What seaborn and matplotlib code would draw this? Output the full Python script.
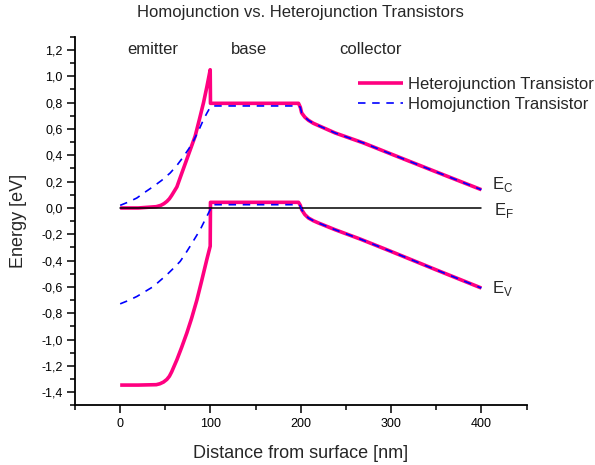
import numpy as np
import pandas as pd
import matplotlib
matplotlib.use("Agg")
import matplotlib.pyplot as plt
from matplotlib.ticker import MultipleLocator, FuncFormatter
import seaborn as sns

# ---- data ----
hetero_ec_x = [0, 20, 40, 45, 48.5, 51.7, 54.5, 57, 62.8, 68, 73.8, 78, 83, 88, 92.3, 96, 99.7, 100,
               197.5, 199.5, 201, 204.5, 208.5, 214, 219.6, 238, 269.4, 300, 350, 400]
hetero_ec_y = [0.0, 0.0, 0.01, 0.02, 0.033, 0.05, 0.07, 0.095, 0.16, 0.26, 0.37, 0.45, 0.545, 0.68, 0.80, 0.92, 1.05, 0.795,
               0.795, 0.765, 0.722, 0.69, 0.666, 0.643, 0.626, 0.57, 0.494, 0.41, 0.274, 0.139]

hetero_ev_x = [0, 20, 40, 44, 48, 51.7, 54.5, 57, 62.8, 68, 73.8, 79, 84.9, 90, 96, 99.7, 100,
               197.5, 199.5, 201, 204.5, 208.5, 214, 219.6, 238, 265.8, 300, 350, 400]
hetero_ev_y = [-1.345, -1.345, -1.342, -1.335, -1.322, -1.302, -1.278, -1.245, -1.153, -1.06, -0.95, -0.84, -0.70, -0.56, -0.39, -0.29, 0.043,
               0.043, 0.02, -0.013, -0.05, -0.076, -0.097, -0.114, -0.165, -0.236, -0.33, -0.47, -0.608]

homo_ec_x = [0, 9, 18.5, 27, 36.9, 46, 55.4, 63, 70.1, 76, 81.2, 87, 92.2, 96, 99.7, 102,
             197.5, 199.5, 201, 204.5, 208.5, 214, 219.6, 238, 269.4, 300, 350, 400]
homo_ec_y = [0.02, 0.045, 0.076, 0.118, 0.164, 0.21, 0.266, 0.325, 0.39, 0.45, 0.51, 0.59, 0.67, 0.72, 0.765, 0.775,
             0.775, 0.765, 0.722, 0.69, 0.666, 0.643, 0.626, 0.57, 0.494, 0.41, 0.274, 0.139]

homo_ev_x = [0, 9, 18.5, 27, 36.9, 44, 51.7, 59, 66.4, 72, 77.5, 83, 88.6, 94, 99.7, 102,
             197.5, 199.5, 201, 204.5, 208.5, 214, 219.6, 238, 265.8, 300, 350, 400]
homo_ev_y = [-0.728, -0.703, -0.672, -0.637, -0.596, -0.553, -0.507, -0.458, -0.406, -0.35, -0.29, -0.228, -0.165, -0.09, -0.013, 0.025,
             0.025, 0.015, -0.013, -0.05, -0.076, -0.097, -0.114, -0.165, -0.236, -0.33, -0.47, -0.608]

ef_x = [0, 400]
ef_y = [0.0, 0.0]

region_labels = ["emitter", "base", "collector"]
region_x = [8, 123, 243]
band_labels = [r"E$_\mathregular{C}$", r"E$_\mathregular{F}$", r"E$_\mathregular{V}$"]
band_x = [412, 414, 412]
band_y = [0.144, -0.051, -0.646]

series_names = ["Heterojunction Transistor", "Homojunction Transistor"]

# ---- style ----
sns.set_style("ticks")
plt.rcParams["font.family"] = ["Liberation Sans", "DejaVu Sans"]
plt.rcParams["mathtext.fontset"] = "custom"
plt.rcParams["mathtext.rm"] = "Liberation Sans"

fig = plt.figure(figsize=(5.95, 4.65), dpi=100)
ax = fig.add_axes([0.1261, 0.1280, 0.7588, 0.7928])

pink = "#FF0080"
blue = "#0000FF"

df_het_c = pd.DataFrame({"x": hetero_ec_x, "y": hetero_ec_y})
df_het_v = pd.DataFrame({"x": hetero_ev_x, "y": hetero_ev_y})
df_hom_c = pd.DataFrame({"x": homo_ec_x, "y": homo_ec_y})
df_hom_v = pd.DataFrame({"x": homo_ev_x, "y": homo_ev_y})
df_ef = pd.DataFrame({"x": ef_x, "y": ef_y})

sns.lineplot(data=df_het_c, x="x", y="y", ax=ax, color=pink, lw=2.6, sort=False,
             label=series_names[0], solid_capstyle="butt")
sns.lineplot(data=df_het_v, x="x", y="y", ax=ax, color=pink, lw=2.6, sort=False, solid_capstyle="butt")
sns.lineplot(data=df_ef, x="x", y="y", ax=ax, color="black", lw=1.1, sort=False)
sns.lineplot(data=df_hom_c, x="x", y="y", ax=ax, color=blue, lw=1.2, sort=False,
             label=series_names[1], dashes=False)
sns.lineplot(data=df_hom_v, x="x", y="y", ax=ax, color=blue, lw=1.2, sort=False)
for ln in ax.lines[3:5]:
    ln.set_linestyle((0, (4.5, 4)))

ax.set_xlim(-50, 450)
ax.set_ylim(-1.5, 1.3)

ax.xaxis.set_major_locator(MultipleLocator(100))
ax.xaxis.set_minor_locator(MultipleLocator(50))
ax.yaxis.set_major_locator(MultipleLocator(0.2))
ax.yaxis.set_minor_locator(MultipleLocator(0.1))

def comma_fmt(v, pos):
    s = f"{v:.1f}"
    if s == "-0.0":
        s = "0.0"
    return s.replace(".", ",")

ax.yaxis.set_major_formatter(FuncFormatter(comma_fmt))
ax.xaxis.set_major_formatter(FuncFormatter(lambda v, p: f"{v:.0f}"))

ax.tick_params(axis="both", which="major", direction="out", length=6, width=1.1,
               labelsize=9, colors="black", pad=3)
ax.tick_params(axis="both", which="minor", direction="out", length=3.5, width=1.1, colors="black")
for s in ["left", "bottom"]:
    ax.spines[s].set_linewidth(1.3)
    ax.spines[s].set_color("black")
sns.despine(ax=ax)

ax.set_xlabel("Distance from surface [nm]", fontsize=13, labelpad=11)
ax.set_ylabel("Energy [eV]", fontsize=13, labelpad=10)
ax.set_title("Homojunction vs. Heterojunction Transistors", fontsize=12, pad=14.5)

for t, xx in zip(region_labels, region_x):
    ax.text(xx, 1.2, t, fontsize=12, ha="left", va="center")

for t, xx, yy in zip(band_labels, band_x, band_y):
    ax.text(xx, yy, t, fontsize=12, ha="left", va="baseline")

leg = ax.legend(loc="upper left", bbox_to_anchor=(0.627, 0.892), frameon=False,
                fontsize=12, handlelength=2.7, handletextpad=0.3, borderpad=0,
                borderaxespad=0, labelspacing=0.33)

fig.savefig("out.png", dpi=100)
